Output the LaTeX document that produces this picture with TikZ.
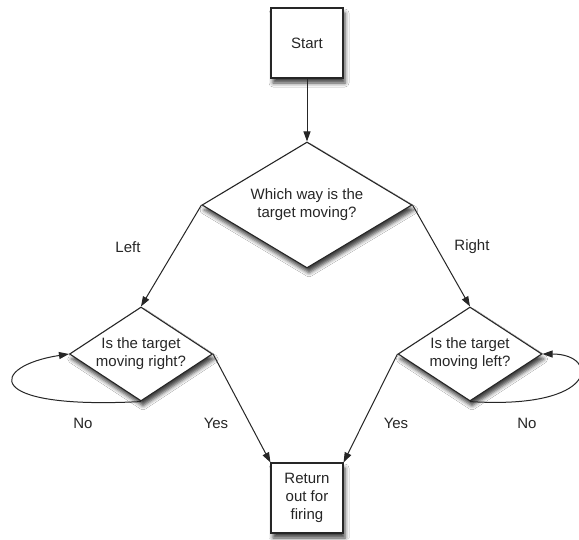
\documentclass[tikz,border=0pt]{standalone}
\usepackage{fontspec}
\setmainfont{Liberation Sans}
\usetikzlibrary{shapes.geometric,arrows.meta,shadows.blur}
\begin{document}
\begin{tikzpicture}[x=1pt,y=-1pt,
  every node/.style={font=\fontsize{15}{18}\selectfont, text=black!85},
  shad/.style={blur shadow={shadow xshift=2pt, shadow yshift=-5pt, shadow blur radius=4pt, shadow opacity=75}},
  box/.style={draw=black!85, line width=1.1pt, fill=white, rectangle, minimum width=72pt, minimum height=70pt, inner sep=0pt, align=center, shad},
  dia/.style={draw=black!85, line width=1.1pt, fill=white, diamond, inner sep=-6pt, align=center, shad},
  conn/.style={draw=black!85, line width=1pt, -{Triangle[length=10pt,width=7pt]}},
  lbl/.style={inner sep=0pt}
]
\path[use as bounding box, fill=white] (0,0) rectangle (579,539);

\node[box] (start) at (307,43) {Start};
\node[dia, shape aspect=1.667, minimum width=210pt, minimum height=126pt] (q0) at (307,205) {Which way is the\\target moving?};
\node[dia, shape aspect=1.52, minimum width=143pt, minimum height=94pt] (q1) at (141,354) {Is the target\\moving right?};
\node[dia, shape aspect=1.52, minimum width=144pt, minimum height=94pt] (q2) at (470,354) {Is the target\\moving left?};
\node[box] (ret) at (307,498) {Return\\out for\\firing};

\draw[conn] (start.south) -- (q0.north);
\draw[conn] (q0.west) -- (q1.north);
\draw[conn] (q0.east) -- (q2.north);
\draw[conn] (q1.east) -- (ret.north west);
\draw[conn] (q2.west) -- (ret.north east);
\draw[conn] (q1.south) .. controls (-20,410) and (-10,366) .. (q1.west);
\draw[conn] (q2.south) .. controls (600,410) and (600,354) .. (q2.east);

\node[lbl] (lleft) at (128,247) {Left};
\node[lbl] (lright) at (472,247) {Right};
\node[lbl] (lno1) at (83,423) {No};
\node[lbl] (lyes1) at (216,423) {Yes};
\node[lbl] (lyes2) at (396,423) {Yes};
\node[lbl] (lno2) at (527,423) {No};
\end{tikzpicture}
\end{document}
